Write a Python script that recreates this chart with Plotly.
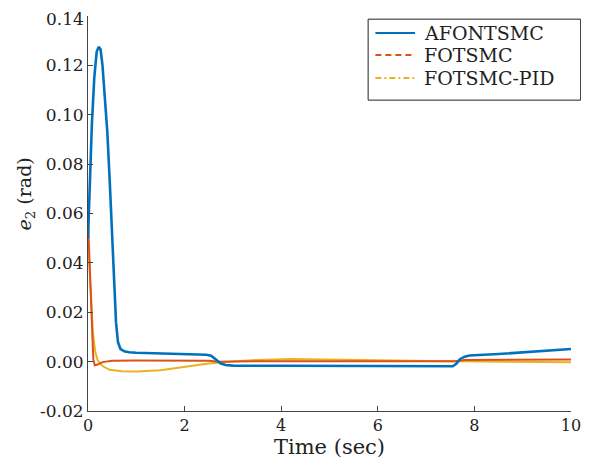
import plotly.graph_objects as go

# ---- data ----
t_afon = [0, 0.04, 0.08, 0.13, 0.18, 0.22, 0.26, 0.30, 0.35, 0.40, 0.45, 0.50, 0.55, 0.58,
          0.62, 0.67, 0.75, 0.85, 1.0, 1.5, 2.0, 2.45, 2.55, 2.65, 2.75, 2.85, 3.0, 4.0,
          5.0, 6.0, 7.0, 7.55, 7.62, 7.7, 7.8, 7.9, 8.5, 9.0, 9.5, 10.0]
e_afon = [0.050, 0.078, 0.096, 0.115, 0.1255, 0.1275, 0.1265, 0.120, 0.108, 0.093, 0.073,
          0.053, 0.030, 0.016, 0.008, 0.0052, 0.0042, 0.0038, 0.0036, 0.0033, 0.0030, 0.0028,
          0.0024, 0.0008, -0.0008, -0.0014, -0.0016, -0.0017, -0.0018, -0.0018, -0.0019,
          -0.0019, -0.0010, 0.0010, 0.0020, 0.0025, 0.0031, 0.0037, 0.0044, 0.0051]

t_fot = [0, 0.04, 0.08, 0.11, 0.14, 0.2, 0.3, 0.5, 1.0, 2.5, 2.7, 3.0, 5.0, 7.6, 7.8, 10.0]
e_fot = [0.057, 0.035, 0.012, 0.001, -0.0015, -0.0012, -0.0002, 0.0004, 0.0005, 0.0004,
         0.0, 0.0001, 0.0002, 0.0002, 0.0007, 0.0009]

t_pid = [0, 0.05, 0.1, 0.15, 0.2, 0.3, 0.45, 0.7, 1.0, 1.5, 2.0, 2.5, 3.0, 3.5, 4.2, 5.0,
         6.0, 7.0, 8.0, 9.0, 10.0]
e_pid = [0.050, 0.030, 0.012, 0.004, 0.0005, -0.0018, -0.0033, -0.0039, -0.0040, -0.0035,
         -0.0022, -0.0008, 0.0001, 0.0007, 0.0011, 0.0010, 0.0006, 0.0003, 0.0001, -0.0001,
         -0.0003]

series_names = ["AFONTSMC", "FOTSMC", "FOTSMC-PID"]
x_ticks = [0, 2, 4, 6, 8, 10]
y_ticks = [-0.02, 0.0, 0.02, 0.04, 0.06, 0.08, 0.10, 0.12, 0.14]
y_tick_text = ["-0.02", "0.00", "0.02", "0.04", "0.06", "0.08", "0.10", "0.12", "0.14"]

colors = ["#0072BD", "#D95319", "#EDB120"]
FONT = "DejaVu Serif"
TXT = "#222222"

fig = go.Figure()
data = [(t_afon, e_afon), (t_fot, e_fot), (t_pid, e_pid)]
widths = [2.6, 2.0, 2.0]
# draw in order so blue stays on top
for i in [2, 1, 0]:
    fig.add_trace(go.Scatter(x=data[i][0], y=data[i][1], mode="lines", name=series_names[i],
                             line=dict(color=colors[i], width=widths[i]),
                             showlegend=False, hoverinfo="skip"))

axis_common = dict(showline=True, linecolor="#444444", linewidth=1, ticks="inside",
                   ticklen=5, tickcolor="#444444", showgrid=False, zeroline=False,
                   mirror=False)

# ---- legend drawn as a framed box (line samples with MATLAB-like dash styles) ----
leg_dashes = ["solid", "6px,4px", "6px,3px,2px,3px"]
leg_rows = [0.957, 0.901, 0.843]
shapes = [dict(type="rect", xref="paper", yref="paper", x0=0.580, x1=1.020,
               y0=0.787, y1=0.992, line=dict(color=TXT, width=1), fillcolor="white",
               layer="above")]
annotations = []
for i in range(3):
    shapes.append(dict(type="line", xref="paper", yref="paper", x0=0.595, x1=0.677,
                       y0=leg_rows[i], y1=leg_rows[i],
                       line=dict(color=colors[i], width=2, dash=leg_dashes[i]),
                       layer="above"))
    annotations.append(dict(text=series_names[i], xref="paper", yref="paper",
                            x=0.691, y=leg_rows[i], xanchor="left", yanchor="middle",
                            showarrow=False, font=dict(family=FONT, size=19, color=TXT)))

annotations.append(dict(text="<i>e</i><sub>2</sub> (rad)", xref="paper", yref="paper",
                        x=-0.129, y=0.55, xanchor="center", yanchor="middle",
                        textangle=-90, showarrow=False,
                        font=dict(family=FONT, size=19, color=TXT)))

# the top tick label sits at the very top edge of the page, where Plotly would hide it,
# so it is written as a text next to its tick
annotations.append(dict(text=y_tick_text[-1], xref="paper", yref="y", x=0, y=y_ticks[-1],
                        xanchor="right", yanchor="middle", xshift=-2, yshift=-3,
                        showarrow=False, font=dict(family=FONT, size=17, color=TXT)))

# the page body has an 8px margin, so the figure is sized to fit the 589x470 window
fig.update_layout(
    width=581, height=462,
    margin=dict(l=80, r=11, t=8, b=59),
    paper_bgcolor="white", plot_bgcolor="white",
    showlegend=False,
    xaxis=dict(range=[0, 10], tickvals=x_ticks,
               tickfont=dict(family=FONT, size=16, color=TXT),
               title=dict(text="Time (sec)", font=dict(family=FONT, size=21, color=TXT),
                          standoff=4),
               **axis_common),
    yaxis=dict(range=[-0.02, 0.14], tickvals=y_ticks, ticktext=y_tick_text[:-1] + [""],
               tickfont=dict(family=FONT, size=17, color=TXT), **axis_common),
    shapes=shapes,
    annotations=annotations,
)

fig.write_html("out.html")
